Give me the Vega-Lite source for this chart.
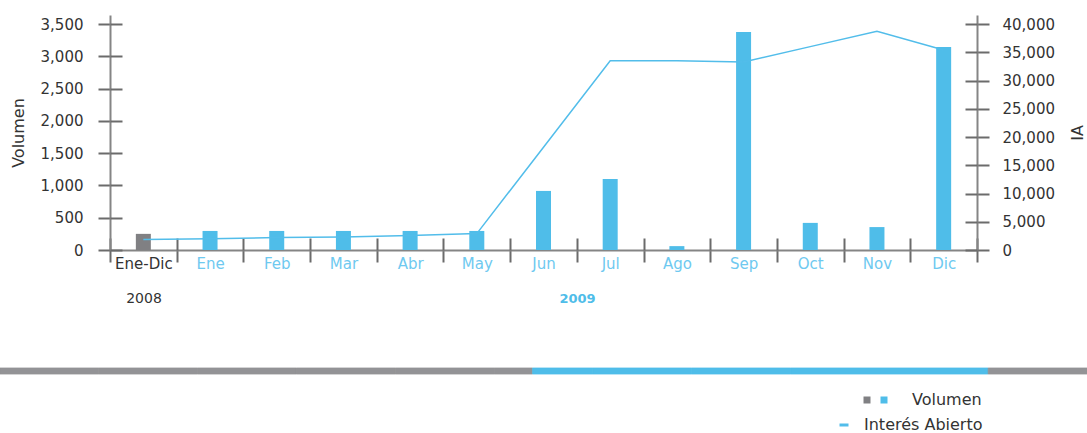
{
  "$schema": "https://vega.github.io/schema/vega-lite/v6.json",
  "width": 867,
  "height": 235,
  "autosize": {"type": "none"},
  "padding": {"left": 110, "top": 15, "right": 110, "bottom": 183},
  "config": {"font": "DejaVu Sans", "view": {"stroke": null}, "axis": {"grid": false}},
  "data": {
    "values": [
      {"mes": "Ene-Dic", "anio": "2008", "volumen": 250, "ia": 1850},
      {"mes": "Ene", "anio": "2009", "volumen": 295, "ia": 2000},
      {"mes": "Feb", "anio": "2009", "volumen": 295, "ia": 2200},
      {"mes": "Mar", "anio": "2009", "volumen": 295, "ia": 2300},
      {"mes": "Abr", "anio": "2009", "volumen": 295, "ia": 2550},
      {"mes": "May", "anio": "2009", "volumen": 295, "ia": 2900},
      {"mes": "Jun", "anio": "2009", "volumen": 915, "ia": 18200},
      {"mes": "Jul", "anio": "2009", "volumen": 1100, "ia": 33500},
      {"mes": "Ago", "anio": "2009", "volumen": 60, "ia": 33500},
      {"mes": "Sep", "anio": "2009", "volumen": 3375, "ia": 33300},
      {"mes": "Oct", "anio": "2009", "volumen": 420, "ia": 36000},
      {"mes": "Nov", "anio": "2009", "volumen": 355, "ia": 38700},
      {"mes": "Dic", "anio": "2009", "volumen": 3145, "ia": 35400}
    ]
  },
  "layer": [
    {
      "layer": [
        {
          "mark": {"type": "bar", "width": 15},
          "encoding": {
            "x": {
              "field": "mes", "type": "nominal", "sort": null,
              "scale": {"paddingInner": 0, "paddingOuter": 0},
              "axis": {
                "orient": "bottom", "title": "2009", "tickBand": "extent", "tickSize": 12,
                "tickColor": "#6b6b6b", "tickWidth": 2, "domainColor": "#858585", "domainWidth": 2,
                "labelAngle": 0, "labelFont": "DejaVu Sans", "labelFontSize": 15, "labelPadding": -6,
                "labelColor": {"condition": {"test": "datum.value === 'Ene-Dic'", "value": "#333333"}, "value": "#6ec9f0"},
                "titleX": 467, "titleY": 48, "titleAlign": "center", "titleBaseline": "middle",
                "titleColor": "#4fbde9", "titleFontWeight": "bold", "titleFontSize": 13, "titleFont": "DejaVu Sans"
              }
            },
            "y": {
              "field": "volumen", "type": "quantitative",
              "scale": {"domain": [0, 3640], "nice": false, "zero": true},
              "axis": {
                "orient": "left", "title": "Volumen", "values": [0, 500, 1000, 1500, 2000, 2500, 3000, 3500],
                "format": ",.0f", "labelFont": "DejaVu Sans", "labelFontSize": 15, "labelColor": "#333333",
                "labelPadding": 15, "tickSize": 12, "tickColor": "#6b6b6b", "tickWidth": 2,
                "domainColor": "#858585", "domainWidth": 2, "titleFont": "DejaVu Sans", "titleFontSize": 16,
                "titleFontWeight": "normal", "titleColor": "#333333", "titlePadding": 14
              }
            },
            "color": {
              "field": "anio", "type": "nominal",
              "scale": {"domain": ["2008", "2009"], "range": ["#808083", "#4fbde9"]},
              "legend": {
                "orient": "none", "legendX": 752, "legendY": 380, "direction": "horizontal",
                "title": "Volumen", "titleOrient": "right", "labelExpr": "''", "symbolType": "square",
                "symbolSize": 49, "symbolStrokeWidth": 0, "labelOffset": 0, "columnPadding": 7,
                "titleFont": "DejaVu Sans", "titleFontSize": 16, "titleFontWeight": "normal",
                "titleColor": "#333333", "titlePadding": 23
              }
            }
          }
        },
        {
          "mark": {"type": "bar", "width": 15, "opacity": 0},
          "encoding": {
            "x": {
              "field": "mes", "type": "nominal", "sort": null,
              "scale": {"paddingInner": 0, "paddingOuter": 0},
              "axis": {
                "orient": "bottom", "title": "2008", "tickBand": "extent", "tickSize": -12,
                "tickColor": "#6b6b6b", "tickWidth": 2, "domain": false, "labels": false,
                "titleX": 33.5, "titleY": 48, "titleAlign": "center", "titleBaseline": "middle",
                "titleColor": "#333333", "titleFontWeight": "normal", "titleFontSize": 14, "titleFont": "DejaVu Sans"
              }
            },
            "y": {
              "field": "volumen", "type": "quantitative",
              "scale": {"domain": [0, 3640], "nice": false, "zero": true},
              "axis": {
                "orient": "left", "title": null, "values": [0, 500, 1000, 1500, 2000, 2500, 3000, 3500],
                "labels": false, "domain": false, "tickSize": -12, "tickColor": "#6b6b6b", "tickWidth": 2
              }
            },
            "fill": {
              "datum": 0, "type": "quantitative",
              "scale": {
                "type": "threshold",
                "domain": [0, 1, 2, 3, 4, 4.39, 5, 6, 7, 9],
                "range": ["#939396", "#939396", "#939396", "#939396", "#939396", "#939396", "#4fbde9", "#4fbde9", "#4fbde9", "#4fbde9", "#939396"]
              },
              "legend": {
                "type": "gradient", "orient": "none", "direction": "horizontal", "legendX": -110, "legendY": 353,
                "gradientLength": 1087, "gradientThickness": 6, "labelOpacity": 0, "title": null,
                "gradientStrokeWidth": 0,
                "encode": {"gradient": {"update": {"stroke": {"scale": "fill", "field": "value"}, "strokeWidth": {"value": 0.8}}}}
              }
            }
          }
        }
      ],
      "resolve": {"axis": {"x": "independent", "y": "independent"}}
    },
    {
      "layer": [
        {
          "mark": {"type": "line", "strokeWidth": 1.5},
          "encoding": {
            "x": {"field": "mes", "type": "nominal", "sort": null, "axis": null},
            "y": {
              "field": "ia", "type": "quantitative",
              "scale": {"domain": [0, 41600], "nice": false, "zero": true},
              "axis": {
                "orient": "right", "title": "IA", "values": [0, 5000, 10000, 15000, 20000, 25000, 30000, 35000, 40000],
                "format": ",.0f", "labelFont": "DejaVu Sans", "labelFontSize": 15, "labelColor": "#333333",
                "labelPadding": 13, "tickSize": 12, "tickColor": "#6b6b6b", "tickWidth": 2,
                "domainColor": "#858585", "domainWidth": 2, "titleFont": "DejaVu Sans", "titleFontSize": 16,
                "titleFontWeight": "normal", "titleColor": "#333333", "titlePadding": 15, "titleAngle": 270,
                "titleBaseline": "top"
              }
            },
            "stroke": {
              "datum": "Interés Abierto", "type": "nominal",
              "scale": {"range": ["#52bdea"]},
              "legend": {
                "orient": "none", "legendX": 726, "legendY": 402, "title": null, "symbolType": "stroke",
                "symbolSize": 81, "symbolStrokeWidth": 3, "labelOffset": 12, "labelFont": "DejaVu Sans",
                "labelFontSize": 16, "labelColor": "#333333"
              }
            }
          }
        },
        {
          "mark": {"type": "line", "strokeOpacity": 0},
          "encoding": {
            "x": {"field": "mes", "type": "nominal", "sort": null, "axis": null},
            "y": {
              "field": "ia", "type": "quantitative",
              "scale": {"domain": [0, 41600], "nice": false, "zero": true},
              "axis": {
                "orient": "right", "title": null, "values": [0, 5000, 10000, 15000, 20000, 25000, 30000, 35000, 40000],
                "labels": false, "domain": false, "tickSize": -12, "tickColor": "#6b6b6b", "tickWidth": 2
              }
            }
          }
        }
      ],
      "resolve": {"axis": {"y": "independent"}}
    }
  ],
  "resolve": {"scale": {"y": "independent"}, "axis": {"x": "independent"}}
}
